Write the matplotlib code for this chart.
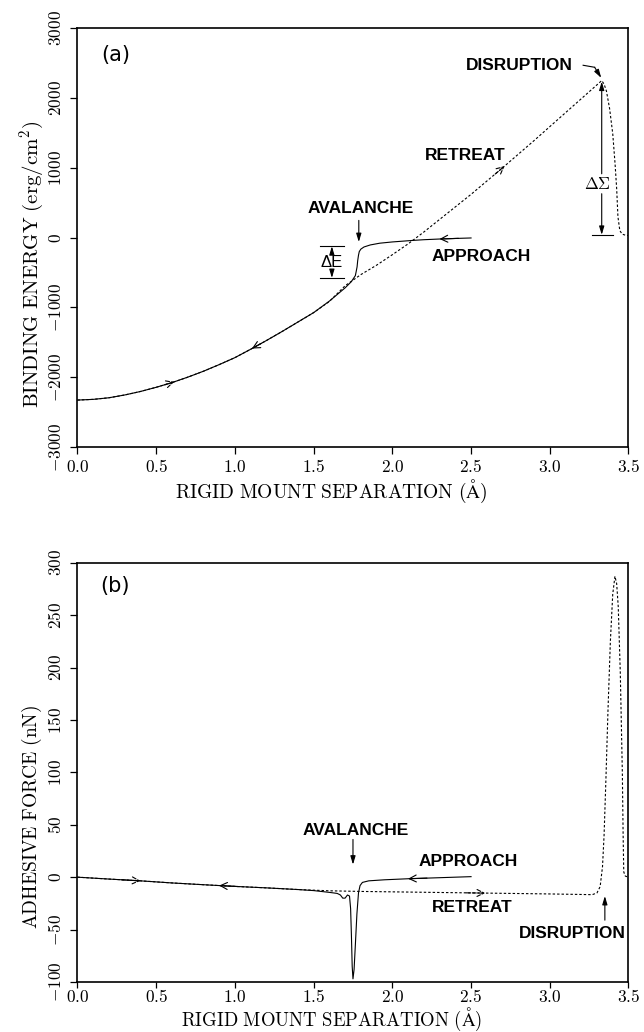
import numpy as np
import matplotlib
matplotlib.use("Agg")
import matplotlib.pyplot as plt
from matplotlib.ticker import FixedLocator, FuncFormatter

plt.rcParams["mathtext.fontset"] = "cm"
plt.rcParams["font.family"] = ["DejaVu Sans"]

# ---- panel (a): binding energy vs rigid mount separation ----
a_app_x = [2.50, 2.40, 2.30, 2.20, 2.13, 2.00, 1.92, 1.86, 1.82, 1.80, 1.79, 1.785, 1.78,
           1.776, 1.77, 1.765, 1.74, 1.70, 1.60, 1.50, 1.40, 1.30, 1.20, 1.10, 1.00,
           0.90, 0.80, 0.70, 0.60, 0.50, 0.40, 0.30, 0.20, 0.10, 0.00]
a_app_E = [-5, -12, -20, -30, -40, -62, -80, -105, -134, -165, -200, -253, -330,
           -420, -490, -545, -630, -720, -910, -1075, -1210, -1345, -1475, -1600, -1720,
           -1820, -1915, -2000, -2078, -2145, -2205, -2255, -2295, -2318, -2328]
a_ret_x = [0.00, 0.10, 0.20, 0.30, 0.40, 0.50, 0.60, 0.70, 0.80, 0.90, 1.00, 1.10, 1.20,
           1.30, 1.40, 1.50, 1.60, 1.70, 1.80, 1.90, 2.00, 2.10, 2.20, 2.30, 2.50, 2.70,
           2.90, 3.10, 3.25, 3.33, 3.345, 3.36, 3.38, 3.40, 3.415, 3.425, 3.433, 3.445,
           3.46, 3.48, 3.50]
a_ret_E = [-2328, -2318, -2295, -2255, -2205, -2145, -2078, -2000, -1915, -1820, -1720, -1600, -1475,
           -1345, -1210, -1075, -915, -690, -530, -395, -245, -90, 80, 260, 620, 1000,
           1390, 1790, 2090, 2250, 2200, 2100, 1850, 1490, 1050, 700, 300, 100,
           50, 35, 30]

# ---- panel (b): adhesive force vs rigid mount separation ----
b_app_x = [2.50, 2.30, 2.10, 1.95, 1.85, 1.81, 1.795, 1.785, 1.775, 1.765, 1.757, 1.75,
           1.745, 1.74, 1.735, 1.728, 1.715, 1.70, 1.685, 1.67, 1.65, 1.60, 1.50, 1.40,
           1.20, 1.00, 0.80, 0.60, 0.40, 0.20, 0.00]
b_app_F = [0.5, -0.5, -1.5, -2.5, -3.5, -5, -8, -15, -35, -65, -88, -97,
           -85, -55, -30, -18, -17, -20, -20, -17, -15.5, -14.5, -12.8, -11.8,
           -10.2, -8.8, -7.2, -5.5, -3.5, -1.8, 0]
b_ret_x = [0.00, 0.20, 0.40, 0.60, 0.80, 1.00, 1.20, 1.40, 1.60, 1.80, 2.00, 2.20, 2.40,
           2.60, 2.80, 3.00, 3.20, 3.27, 3.30, 3.32, 3.335, 3.345, 3.357, 3.37, 3.385,
           3.40, 3.414, 3.425, 3.435, 3.448, 3.461, 3.466, 3.47, 3.48, 3.50]
b_ret_F = [0, -1.8, -3.5, -5.5, -7.2, -8.8, -10.2, -11.8, -13.0, -13.6, -14.0, -14.4, -14.8,
           -15.2, -15.6, -16.0, -16.5, -16.7, -15, -9, 10, 40, 95, 160, 225,
           270, 287, 280, 258, 195, 100, 40, 5, 1, 0]

x_ticks = [0.0, 0.5, 1.0, 1.5, 2.0, 2.5, 3.0, 3.5]
a_yticks = [-3000, -2000, -1000, 0, 1000, 2000, 3000]
b_yticks = [-100, -50, 0, 50, 100, 150, 200, 250, 300]

SOLID = dict(color="black", lw=0.8)
DASH = dict(color="black", lw=0.8, ls=(0, (2.2, 1.8)))
LBL = dict(family=["Liberation Sans", "DejaVu Sans"], fontweight="bold", fontsize=12.5,
           ha="center", va="center")
XLABEL = r"$\mathrm{RIGID\ MOUNT\ SEPARATION\ (\AA)}$"


def curve_head(ax, xs, ys, x0, direction, dashed=False, dx=0.06):
    # open chevron on a curve, direction +1 = towards larger x
    xs = np.asarray(xs, float)
    ys = np.asarray(ys, float)
    o = np.argsort(xs)
    y0 = np.interp(x0, xs[o], ys[o])
    x1 = x0 - direction * dx
    y1 = np.interp(x1, xs[o], ys[o])
    ax.annotate("", xy=(x0, y0), xytext=(x1, y1),
                arrowprops=dict(arrowstyle="->,head_length=0.5,head_width=0.25",
                                lw=0.8, color="black", shrinkA=0, shrinkB=0,
                                ls="--" if dashed else "-"))


def pointer(ax, x0, y0, x1, y1):
    ax.annotate("", xy=(x1, y1), xytext=(x0, y0),
                arrowprops=dict(arrowstyle="-|>,head_length=0.5,head_width=0.15",
                                lw=0.8, color="black", shrinkA=0, shrinkB=0))


def style_axes(ax, yticks, xlen, xpad):
    ax.set_xlim(0, 3.5)
    ax.xaxis.set_major_locator(FixedLocator(x_ticks))
    ax.yaxis.set_major_locator(FixedLocator(yticks))
    ax.xaxis.set_major_formatter(FuncFormatter(lambda v, p: r"$\mathrm{%.1f}$" % v))
    ax.yaxis.set_major_formatter(FuncFormatter(lambda v, p: r"$\mathrm{%d}$" % v))
    ax.tick_params(direction="out", width=0.9, labelsize=12.5, top=False, right=False)
    ax.tick_params(axis="x", length=xlen, pad=xpad)
    ax.tick_params(axis="y", length=5, pad=4, labelrotation=90)
    for t in ax.get_yticklabels():
        t.set_va("center")
    for s in ax.spines.values():
        s.set_linewidth(1.2)


fig = plt.figure(figsize=(6.44, 10.32), dpi=100)
ax1 = fig.add_axes([0.1203, 0.5669, 0.8556, 0.4057])
ax2 = fig.add_axes([0.1203, 0.04845, 0.8556, 0.4063])

# ---------------- (a) ----------------
ax1.plot(a_ret_x, a_ret_E, **DASH)
ax1.plot(a_app_x, a_app_E, **SOLID)
ax1.set_ylim(-3000, 3000)
style_axes(ax1, a_yticks, 5, 3)

curve_head(ax1, a_ret_x, a_ret_E, 0.615, +1, dashed=True)
curve_head(ax1, a_app_x, a_app_E, 1.108, -1)
curve_head(ax1, a_app_x, a_app_E, 2.30, -1, dx=0.12)
curve_head(ax1, a_ret_x, a_ret_E, 2.713, +1, dashed=True)

ax1.text(0.246, 2622, "(a)", fontsize=15, ha="center", va="center")
ax1.text(1.80, 414, "AVALANCHE", **LBL)
pointer(ax1, 1.787, 247, 1.787, -63)
ax1.text(2.564, -267, "APPROACH", **LBL)
ax1.text(2.464, 1177, "RETREAT", **LBL)
ax1.text(2.808, 2466, "DISRUPTION", **LBL)
ax1.plot([3.212, 3.285], [2470, 2441], color="black", lw=0.8)
pointer(ax1, 3.285, 2441, 3.327, 2289)

# delta E bracket
ax1.plot([1.541, 1.696], [-124, -124], color="black", lw=0.8)
ax1.plot([1.541, 1.696], [-578, -578], color="black", lw=0.8)
pointer(ax1, 1.616, -230, 1.616, -124)
pointer(ax1, 1.616, -475, 1.616, -578)
ax1.text(1.616, -352, "ΔE", family=["Liberation Sans", "DejaVu Sans"], fontsize=12,
         ha="center", va="center")

# delta Sigma bracket
pointer(ax1, 3.33, 915, 3.33, 2235)
pointer(ax1, 3.33, 629, 3.33, 40)
ax1.plot([3.27, 3.40], [33, 33], color="black", lw=0.8)
ax1.text(3.306, 771, r"$\Delta\Sigma$", fontsize=12, ha="center", va="center")

ax1.set_xlabel(XLABEL, fontsize=14)
ax1.set_ylabel(r"$\mathrm{BINDING\ ENERGY\ (erg/cm^2)}$", fontsize=15)
ax1.xaxis.label.set_va("center")
ax1.yaxis.label.set_va("center")
ax1.xaxis.set_label_coords(0.461, -0.106)
ax1.yaxis.set_label_coords(-0.083, 0.435)

# ---------------- (b) ----------------
ax2.plot(b_ret_x, b_ret_F, **DASH)
ax2.plot(b_app_x, b_app_F, **SOLID)
ax2.set_ylim(-100, 300)
style_axes(ax2, b_yticks, 4, 0.5)

curve_head(ax2, b_ret_x, b_ret_F, 0.40, +1, dashed=True, dx=0.12)
curve_head(ax2, b_app_x, b_app_F, 0.90, -1, dx=0.12)
curve_head(ax2, b_app_x, b_app_F, 2.10, -1, dx=0.12)
curve_head(ax2, b_ret_x, b_ret_F, 2.59, +1, dashed=True, dx=0.12)

ax2.text(0.237, 278, "(b)", fontsize=15, ha="center", va="center")
ax2.text(1.767, 45, "AVALANCHE", **LBL)
pointer(ax2, 1.75, 36, 1.75, 12)
ax2.text(2.48, 15, "APPROACH", **LBL)
ax2.text(2.51, -29.4, "RETREAT", **LBL)
ax2.text(3.142, -54, "DISRUPTION", **LBL)
pointer(ax2, 3.35, -41, 3.35, -18)

ax2.set_xlabel(XLABEL, fontsize=13.5)
ax2.set_ylabel(r"$\mathrm{ADHESIVE\ FORCE\ (nN)}$", fontsize=14)
ax2.xaxis.label.set_va("center")
ax2.yaxis.label.set_va("center")
ax2.xaxis.set_label_coords(0.461, -0.089)
ax2.yaxis.set_label_coords(-0.083, 0.393)

fig.savefig("out.png", dpi=100)
